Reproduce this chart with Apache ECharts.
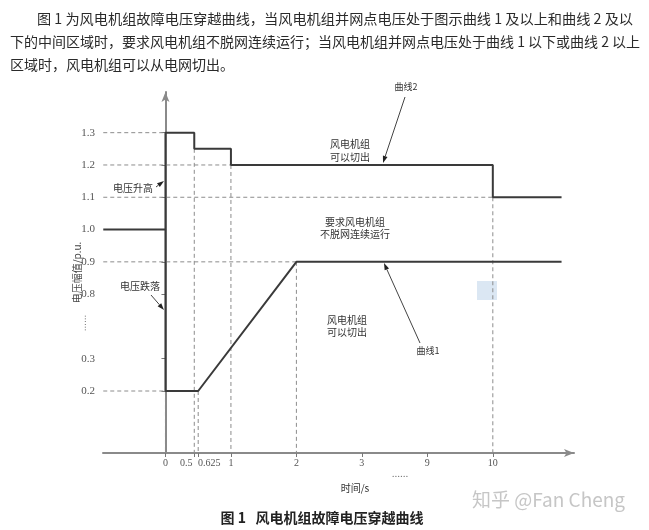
<!DOCTYPE html>
<html>
<head>
<meta charset="utf-8">
<script src="https://cdn.jsdelivr.net/npm/echarts@6/dist/echarts.min.js"></script>
<style>
  html, body { margin: 0; padding: 0; background: #fff; }
  #chart { width: 649px; height: 530px; }
</style>
</head>
<body>
<div id="chart"></div>
<script>
// 故障电压穿越曲线 数据（时间 s，电压 p.u.）
var startTime = -0.95;
var endTime = 11.05;
var curve2Time = [startTime, 0, 0, 0.5, 0.5, 1, 1, 10, 10, endTime];
var curve2Volt = [1.0, 1.0, 1.3, 1.3, 1.25, 1.25, 1.2, 1.2, 1.1, 1.1];
var curve1Time = [0, 0, 0.625, 2, endTime];
var curve1Volt = [1.0, 0.2, 0.2, 0.9, 0.9];

// 虚线辅助线
var hGuideVolt = [1.3, 1.2, 1.1, 0.9, 0.2];
var hGuideEnd = [0, 1, 10, 2, 0];
var vGuideTime = [0, 0.5, 0.625, 1, 2, 10];
var vGuideTop = [0.2, 1.25, 0.2, 1.2, 0.9, 1.1];

// 刻度
var xTickTime = [0, 0.5, 0.625, 1, 2, 3, 9, 10];
var xTickLabel = ["0", "0.5", "0.625", "1", "2", "3", "9", "10"];
var yTickVolt = [0.2, 0.3, 0.8, 0.9, 1.0, 1.1, 1.2, 1.3];
var yTickLabel = ["0.2", "0.3", "0.8", "0.9", "1.0", "1.1", "1.2", "1.3"];

// 断轴：坐标轴上的位置
var xBreakPos = [0, 0.44, 0.5, 1, 2, 3, 4, 5];
var yBreakVolt = [0, 0.2, 0.3, 0.8, 0.9, 1.0, 1.1, 1.2, 1.3];
var yBreakPos = [0, 2, 3, 5, 6, 7, 8, 9, 10];

function piecewise(v, from, to, slope) {
  var n = from.length;
  if (v <= from[0]) return to[0] + (v - from[0]) * slope;
  if (v >= from[n - 1]) return to[n - 1] + (v - from[n - 1]) * slope;
  for (var i = 1; i < n; i++) {
    if (v <= from[i]) {
      return to[i - 1] + (v - from[i - 1]) / (from[i] - from[i - 1]) * (to[i] - to[i - 1]);
    }
  }
}
function mapX(t) { return piecewise(t, xTickTime, xBreakPos, 1); }
function mapY(v) { return piecewise(v, yBreakVolt, yBreakPos, 10); }

function pairs(ts, vs) {
  return ts.map(function (t, i) { return [mapX(t), mapY(vs[i])]; });
}

var guideData = [];
hGuideVolt.forEach(function (v, i) {
  guideData.push([mapX(startTime), mapY(v)], [mapX(hGuideEnd[i]), mapY(v)], "-");
});
vGuideTime.forEach(function (t, i) {
  guideData.push([mapX(t), mapY(vGuideTop[i])], [mapX(t), mapY(0)], "-");
});

var xTickPos = xTickTime.map(mapX);
var yTickPos = yTickVolt.map(mapY);

function lookup(val, pos, labels) {
  for (var i = 0; i < pos.length; i++) {
    if (Math.abs(pos[i] - val) < 1e-6) return labels[i];
  }
  return "";
}

var cjk = '"Noto Sans CJK SC"';
var ink = "#333";

function arrow(x1, y1, x2, y2) {
  var a = Math.atan2(y2 - y1, x2 - x1), L = 7, W = 2.4;
  var bx = x2 - L * Math.cos(a), by = y2 - L * Math.sin(a);
  return [
    { type: "line", shape: { x1: x1, y1: y1, x2: bx, y2: by }, style: { stroke: "#444", lineWidth: 1 } },
    {
      type: "polygon",
      shape: { points: [[x2, y2], [bx + W * Math.sin(a), by - W * Math.cos(a)], [bx - W * Math.sin(a), by + W * Math.cos(a)]] },
      style: { fill: "#222" }
    }
  ];
}
function label(text, x, y, size, extra) {
  var s = { text: text, x: x, y: y, fontSize: size || 10, fontFamily: cjk, fill: ink, textAlign: "center", textVerticalAlign: "middle" };
  for (var k in extra) s[k] = extra[k];
  return { type: "text", style: s };
}

var graphics = [
  label("图 1 为风电机组故障电压穿越曲线，当风电机组并网点电压处于图示曲线 1 及以上和曲线 2 及以", 37, 19, 14.2, { textAlign: "left", fill: "#2a2a2a" }),
  label("下的中间区域时，要求风电机组不脱网连续运行；当风电机组并网点电压处于曲线 1 以下或曲线 2 以上", 10, 42, 14, { textAlign: "left", fill: "#2a2a2a" }),
  label("区域时，风电机组可以从电网切出。", 10, 65, 14, { textAlign: "left", fill: "#2a2a2a" }),
  label("曲线2", 406, 87, 9),
  label("风电机组", 350, 144),
  label("可以切出", 350, 157),
  label("要求风电机组", 355, 222),
  label("不脱网连续运行", 355, 234),
  label("风电机组", 347, 320),
  label("可以切出", 347, 332),
  label("曲线1", 428, 351, 9),
  label("电压升高", 133, 188),
  label("电压跌落", 140, 286),
  label("......", 400, 473, 10, { fill: "#666" }),
  { type: "text", x: 83, y: 323, rotation: Math.PI / 2, style: { text: "......", fontSize: 10, fill: "#666", textAlign: "center", textVerticalAlign: "middle" } },
  label("时间/s", 355, 488),
  label("图 1   风电机组故障电压穿越曲线", 322, 518, 14, { fontWeight: "bold", fill: "#222" }),
  label("知乎 @Fan Cheng", 472, 500, 19, { textAlign: "left", fill: "#c6c6c6" }),
  { type: "rect", shape: { x: 477, y: 281, width: 20, height: 19 }, style: { fill: "#dbe7f3" } }
];
graphics = graphics
  .concat(arrow(405, 97, 383, 163))
  .concat(arrow(420, 343, 384, 263))
  .concat(arrow(156, 187, 164, 181))
  .concat(arrow(151, 295, 164, 310));

var chart = echarts.init(document.getElementById("chart"));
chart.setOption({
  backgroundColor: "#fff",
  animation: false,
  grid: { left: 103, right: 75, top: 92, bottom: 77 },
  xAxis: {
    type: "value",
    min: mapX(startTime) - 0.004,
    max: 6.24,
    splitLine: { show: false },
    axisLine: {
      onZero: false,
      symbol: ["none", "arrow"],
      symbolSize: [6, 10],
      lineStyle: { color: "#8a8a8a", width: 2 }
    },
    axisTick: { customValues: xTickPos, length: 4, lineStyle: { color: "#777" } },
    axisLabel: {
      customValues: xTickPos,
      fontSize: 10,
      fontFamily: "Liberation Serif",
      color: "#555",
      margin: 5,
      formatter: function (val) {
        var s = lookup(val, xTickPos, xTickLabel);
        if (s === "0.5") return "{r|" + s + "}";
        if (s === "0.625") return "{l|" + s + "}";
        return s;
      },
      rich: {
        r: { fontSize: 10, fontFamily: "Liberation Serif", color: "#555", padding: [0, 16, 0, 0] },
        l: { fontSize: 10, fontFamily: "Liberation Serif", color: "#555", padding: [0, 0, 0, 22] }
      }
    }
  },
  yAxis: {
    type: "value",
    min: 0.08,
    max: 11.26,
    name: "电压幅值/p.u.",
    nameLocation: "middle",
    nameRotate: 90,
    nameGap: 21,
    nameMoveOverlap: false,
    nameTextStyle: { fontSize: 10, fontFamily: cjk, color: "#444" },
    splitLine: { show: false },
    axisLine: {
      symbol: ["none", "arrow"],
      symbolSize: [6, 10],
      lineStyle: { color: "#8a8a8a", width: 2 }
    },
    axisTick: { customValues: yTickPos, length: 4, lineStyle: { color: "#777" } },
    axisLabel: {
      customValues: yTickPos,
      fontSize: 11,
      fontFamily: "Liberation Serif",
      color: "#555",
      margin: 8,
      formatter: function (val) { return lookup(val, yTickPos, yTickLabel); }
    }
  },
  series: [
    {
      name: "guides",
      type: "line",
      symbol: "none",
      connectNulls: false,
      lineStyle: { color: "#8c8c8c", width: 1, type: [4, 3] },
      data: guideData,
      z: 1
    },
    {
      name: "曲线2",
      type: "line",
      symbol: "none",
      lineStyle: { color: "#3a3a3a", width: 2 },
      data: pairs(curve2Time, curve2Volt),
      z: 3
    },
    {
      name: "曲线1",
      type: "line",
      symbol: "none",
      lineStyle: { color: "#3a3a3a", width: 2 },
      data: pairs(curve1Time, curve1Volt),
      z: 3
    }
  ],
  graphic: graphics
});
</script>
</body>
</html>
